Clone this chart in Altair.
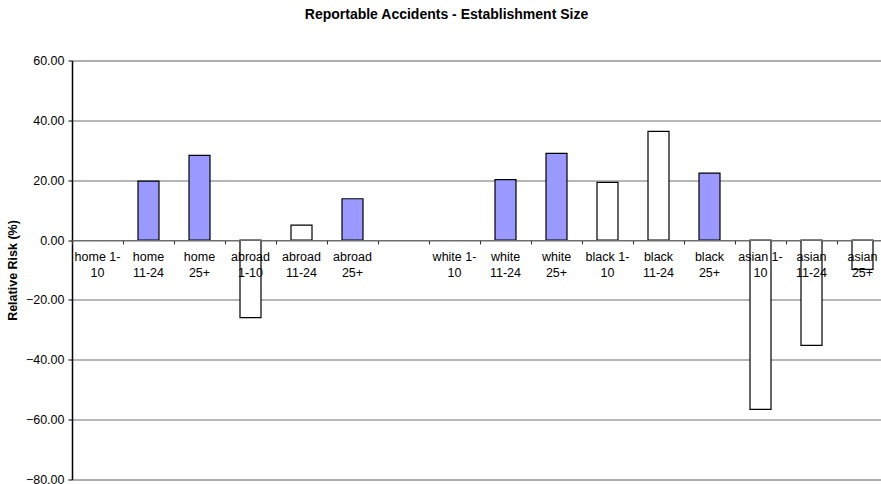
import altair as alt
import pandas as pd

# Establishment-size groups along the category axis (one empty slot separates the two blocks)
categories = [
    "home 1-10", "home 11-24", "home 25+",
    "abroad 1-10", "abroad 11-24", "abroad 25+",
    " ",
    "white 1-10", "white 11-24", "white 25+",
    "black 1-10", "black 11-24", "black 25+",
    "asian 1-10", "asian 11-24", "asian 25+",
]
# Wrapped category labels as printed under the zero line
labels = [
    "home 1-\n10", "home\n11-24", "home\n25+",
    "abroad\n1-10", "abroad\n11-24", "abroad\n25+",
    "",
    "white 1-\n10", "white\n11-24", "white\n25+",
    "black 1-\n10", "black\n11-24", "black\n25+",
    "asian 1-\n10", "asian\n11-24", "asian\n25+",
]
# Relative risk (%) per group
relative_risk = [
    None, 19.7, 28.3,
    -25.9, 5.0, 13.8,
    None,
    None, 20.2, 29.0,
    19.3, 36.3, 22.4,
    -56.6, -35.2, -9.8,
]
# Shaded bars vs. open bars
shaded = [
    "no", "yes", "yes",
    "no", "no", "yes",
    "no",
    "no", "yes", "yes",
    "no", "no", "yes",
    "no", "no", "no",
]
y_ticks = [-80, -60, -40, -20, 0, 20, 40, 60]

df = pd.DataFrame({
    "group": categories,
    "label": labels,
    "risk": relative_risk,
    "shaded": shaded,
})

FONT = "Liberation Sans"
GRID = "#6e6e6e"

x_axis = alt.Axis(
    labels=False, title=None, grid=False,
    offset=-239.5, tickBand="extent", tickSize=4,
    tickColor="#333333", domainColor=GRID, domainWidth=1, zindex=1,
)
x_enc = alt.X(
    "group:N", sort=categories,
    scale=alt.Scale(domain=categories, paddingInner=0, paddingOuter=0, range=[0, 816]),
    axis=x_axis,
)
y_scale = alt.Scale(domain=[-80, 60], nice=False, zero=True)
y_axis = alt.Axis(
    values=y_ticks, format=".2f", title="Relative Risk (%)",
    grid=True, gridColor=GRID, gridWidth=1,
    domainColor="black", domainWidth=1.5,
    tickColor="black", tickSize=4, labelPadding=4,
    labelFont=FONT, labelFontSize=12.5, labelColor="black",
    titleFont=FONT, titleFontSize=12.5, titleFontWeight="bold", titleColor="black",
    titlePadding=6,
)

bars = alt.Chart(df).mark_bar(size=21, stroke="black", strokeWidth=1.2).encode(
    x=x_enc,
    y=alt.Y("risk:Q", scale=y_scale, axis=y_axis),
    fill=alt.Fill(
        "shaded:N",
        scale=alt.Scale(domain=["yes", "no"], range=["#9999FF", "#FFFFFF"]),
        legend=None,
    ),
)

text = alt.Chart(df).mark_text(
    lineBreak="\n", baseline="top", align="center", dy=11,
    font=FONT, fontSize=12.5, lineHeight=15.5, color="black",
).encode(
    x=x_enc,
    y=alt.Y(datum=0, type="quantitative", scale=y_scale, axis=y_axis),
    text="label:N",
)

chart = alt.layer(bars, text).properties(
    width=809,
    height=419,
    autosize="none",
    padding={"left": 72, "top": 60.5, "right": 0, "bottom": 4.5},
    title=alt.TitleParams(
        "Reportable Accidents - Establishment Size",
        font=FONT, fontSize=14, fontWeight="bold", color="black",
        anchor="middle", dx=-30, offset=33,
    ),
).configure_view(stroke=None).configure(background="white")

chart.save("out.html", embed_options={"renderer": "svg", "actions": False})
